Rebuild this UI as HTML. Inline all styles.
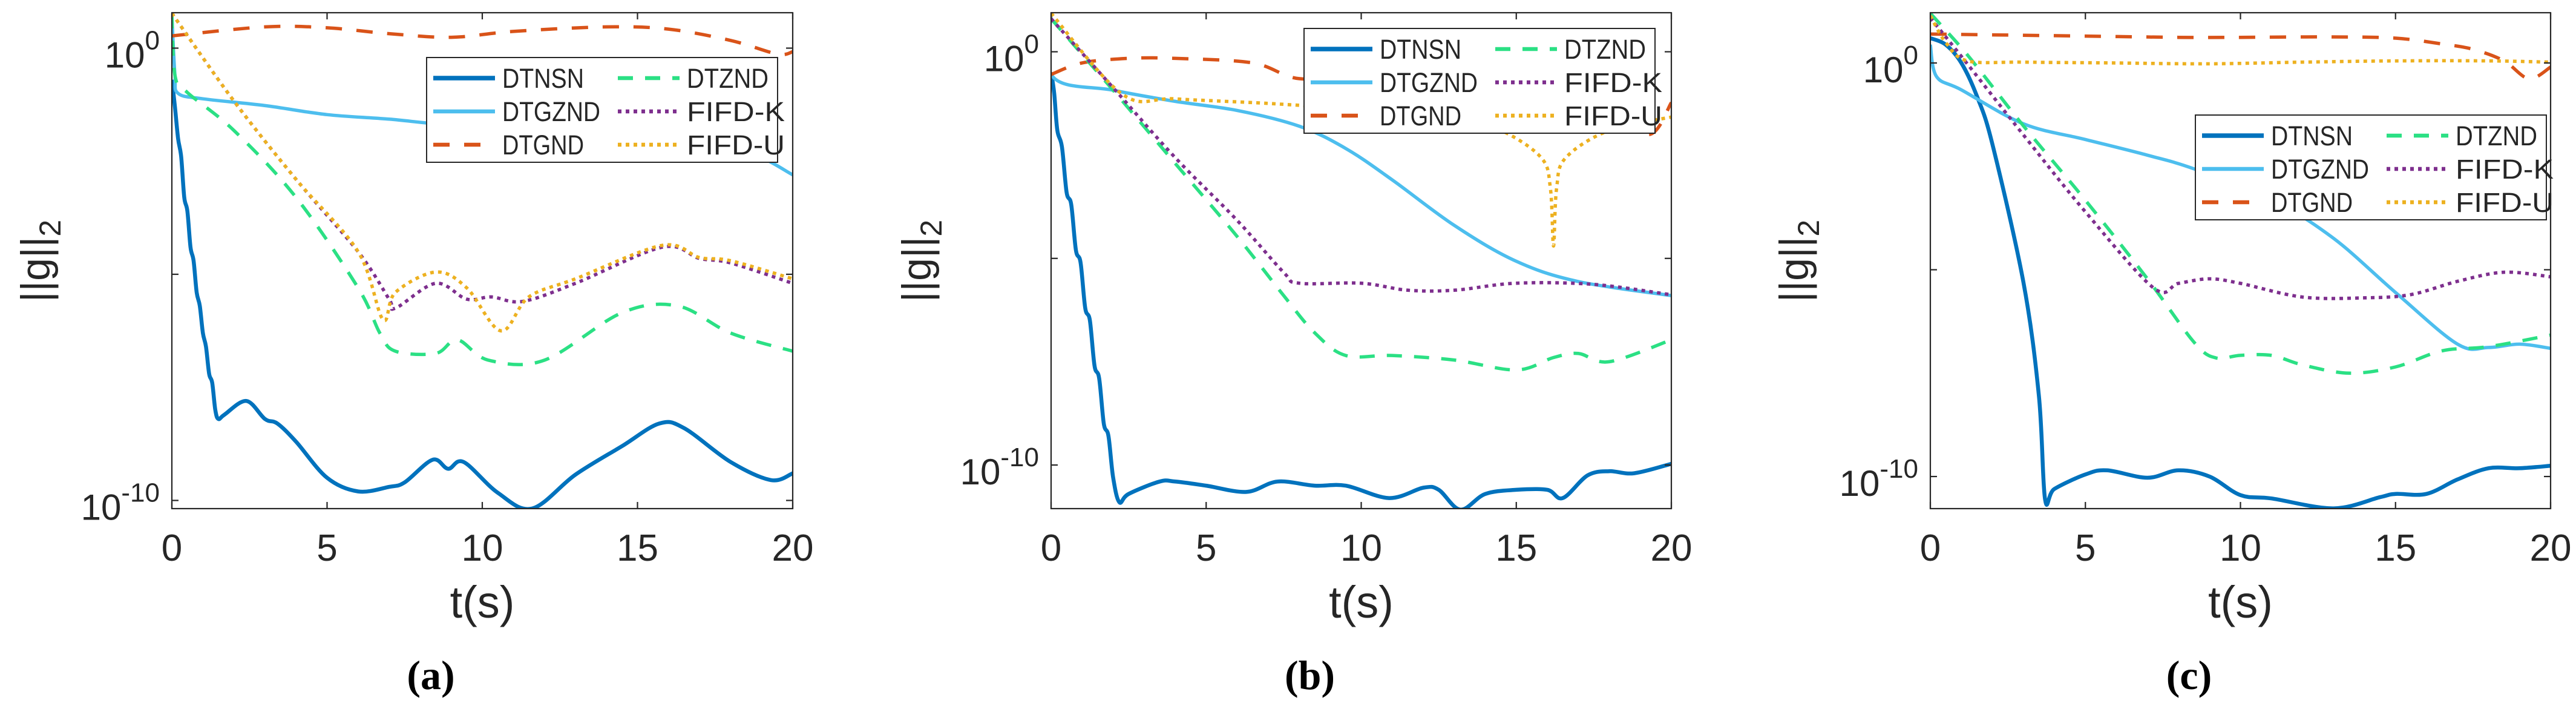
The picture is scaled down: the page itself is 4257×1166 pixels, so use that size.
<!DOCTYPE html>
<html><head><meta charset="utf-8">
<style>
html,body{margin:0;padding:0;background:#fff;}
svg{display:block;}
text{font-family:"Liberation Sans",Arial,sans-serif;fill:#262626;}
.cap{font-family:"Liberation Serif",serif;font-weight:bold;fill:#000;}
</style></head>
<body>
<svg id="fig" width="4257" height="1166" viewBox="0 0 4257 1166" xmlns="http://www.w3.org/2000/svg"></svg>
<script>
// ---------- DATA (t in seconds, values are log10 ||g||_2) ----------
const seriesNames = ["DTNSN","DTGZND","DTGND","DTZND","FIFD-K","FIFD-U"];
const xTicks = [0,5,10,15,20];

// Panel (a)
const a_DTNSN_t = [0,0.1,0.2,0.3,0.4,0.5,0.6,0.7,0.8,0.9,1.0,1.1,1.2,1.3,1.4,1.5,1.7,2.4,3,3.4,4,5,6,7,7.5,8.4,8.9,9.4,10.5,11.6,13,14.5,15.7,16.5,18,19.3,20];
const a_DTNSN_v = [-0.7,-1.3,-2.0,-2.4,-3.3,-3.6,-4.4,-4.7,-5.4,-5.7,-6.3,-6.6,-7.2,-7.4,-8.0,-8.2,-8.1,-7.8,-8.2,-8.3,-8.7,-9.5,-9.8,-9.7,-9.6,-9.1,-9.3,-9.15,-9.83,-10.18,-9.43,-8.8,-8.3,-8.4,-9.15,-9.55,-9.4];
const a_DTGZND_t = [0,0.1,0.2,1,3,5,7,9,13,16,18.5,20];
const a_DTGZND_v = [0.7,-0.6,-1.0,-1.12,-1.27,-1.47,-1.57,-1.7,-1.85,-2.1,-2.3,-2.8];
const a_DTGND_t = [0,3,5,7,9,11,14,16,18,19.5,20];
const a_DTGND_v = [0.27,0.47,0.45,0.32,0.24,0.37,0.47,0.42,0.17,-0.13,-0.08];
const a_DTZND_t = [0,0.1,0.5,2,4,6,6.7,7.2,8.5,9.2,10.2,12,14.5,16.3,18,20];
const a_DTZND_v = [0.77,-0.6,-0.98,-1.82,-3.3,-5.3,-6.3,-6.7,-6.75,-6.45,-6.9,-6.9,-5.85,-5.7,-6.3,-6.7];
const a_FIFDK_t = [0,2,4,6,7,7.2,8.5,9.5,10.3,11.3,13,15.8,17,18,20];
const a_FIFDK_v = [0.77,-1.17,-2.9,-4.5,-5.55,-5.75,-5.2,-5.55,-5.5,-5.6,-5.2,-4.4,-4.65,-4.75,-5.2];
const a_FIFDU_t = [0,2,4,6,6.8,7.2,8.5,9.5,10.6,11.5,13,15.8,17,18,20];
const a_FIFDU_v = [0.77,-1.17,-2.9,-4.5,-6.0,-5.4,-4.95,-5.3,-6.25,-5.5,-5.1,-4.36,-4.63,-4.7,-5.1];

// Panel (b)
const b_DTNSN_t = [0,0.1,0.2,0.35,0.5,0.65,0.8,0.95,1.1,1.25,1.4,1.55,1.7,1.85,2.0,2.2,2.5,3.5,4,5,6.3,7.3,8.5,9.5,10.9,12,12.5,13.2,14,15,16,16.5,17.3,18,18.8,20];
const b_DTNSN_v = [-0.5,-1.0,-1.9,-2.3,-3.4,-3.7,-4.8,-5.1,-6.2,-6.5,-7.6,-7.9,-9.0,-9.3,-10.3,-10.9,-10.7,-10.4,-10.4,-10.5,-10.65,-10.4,-10.5,-10.5,-10.8,-10.55,-10.6,-11.08,-10.7,-10.6,-10.6,-10.8,-10.25,-10.15,-10.2,-9.97];
const b_DTGZND_t = [0,0.05,2,4,6,8,9.5,11,13,15,17,20];
const b_DTGZND_v = [0.93,-0.6,-0.93,-1.2,-1.42,-1.8,-2.34,-3.1,-4.2,-5.07,-5.56,-5.9];
const b_DTGND_t = [0,1,2.5,4,6.5,8,10,12,16,18,19.3,20];
const b_DTGND_v = [-0.55,-0.27,-0.16,-0.16,-0.27,-0.65,-0.55,-0.45,-0.8,-1.5,-2.0,-1.23];
const b_DTZND_t = [0,2,4,6,7.5,8.5,9.5,11,13,15,16.2,17,18,20];
const b_DTZND_v = [0.8,-0.93,-2.7,-4.47,-5.9,-6.8,-7.35,-7.35,-7.46,-7.7,-7.4,-7.3,-7.5,-6.97];
const b_FIFDK_t = [0,2,4,6,7.5,8,10,11.5,13,15,17.5,20];
const b_FIFDK_v = [0.8,-0.87,-2.56,-4.08,-5.34,-5.6,-5.6,-5.77,-5.77,-5.6,-5.63,-5.88];
const b_FIFDU_t = [0,2.3,4,7,10,13,14.5,15.8,16.1,16.2,16.3,16.6,18,20];
const b_FIFDU_v = [0.93,-1.03,-1.14,-1.25,-1.4,-1.6,-1.9,-2.56,-3.3,-4.7,-3.3,-2.56,-1.9,-1.58];

// Panel (c)
const c_DTNSN_t = [0,0.5,1,1.5,2,3,3.5,3.7,4,5,5.7,7,8,9,10,11,13,14.5,15,16,17,18,19,20];
const c_DTNSN_v = [0.6,0.44,0,-0.8,-1.96,-5.3,-8.05,-10.55,-10.3,-9.95,-9.85,-10.03,-9.85,-10.0,-10.45,-10.53,-10.77,-10.5,-10.42,-10.42,-10.07,-9.8,-9.8,-9.74];
const c_DTGZND_t = [0,0.2,1,3,5,7,8.5,11,13,15,17,18,19,20];
const c_DTGZND_v = [0.44,-0.33,-0.65,-1.47,-1.85,-2.23,-2.56,-3.3,-4.24,-5.55,-6.8,-6.88,-6.8,-6.9];
const c_DTGND_t = [0,2,5,8,10,13,15,16.5,17.5,18.5,19.3,20];
const c_DTGND_v = [0.7,0.68,0.65,0.62,0.62,0.63,0.6,0.46,0.33,0.05,-0.38,-0.1];
const c_DTZND_t = [0,0.4,1.3,3,5,7,8.5,9.2,10,11,12,13.5,15,16.5,18,20];
const c_DTZND_v = [1.2,0.87,0.1,-1.52,-3.32,-5.22,-6.75,-7.13,-7.07,-7.07,-7.3,-7.5,-7.35,-6.96,-6.86,-6.58];
const c_FIFDK_t = [0,1,3,5,7.2,8,9,10,12,14,15.5,17,18.5,20];
const c_FIFDK_v = [1.09,0.16,-1.74,-3.6,-5.44,-5.33,-5.22,-5.33,-5.66,-5.68,-5.6,-5.28,-5.06,-5.17];
const c_FIFDU_t = [0,0.5,1.2,3,6,9,12,15,18,20];
const c_FIFDU_v = [1.14,0.49,0.05,0.02,0,-0.02,0.02,0.05,0.05,0.02];

// ---------- RENDER ----------
const NS = "http://www.w3.org/2000/svg";
const fig = document.getElementById("fig");
function mk(tag, attrs, parent){ const e=document.createElementNS(NS,tag); for(const k in attrs) e.setAttribute(k,attrs[k]); (parent||fig).appendChild(e); return e; }

function smoothPath(P){
  let d = "M"+P[0][0].toFixed(1)+","+P[0][1].toFixed(1);
  for(let i=0;i<P.length-1;i++){
    const p0=P[Math.max(0,i-1)], p1=P[i], p2=P[i+1], p3=P[Math.min(P.length-1,i+2)];
    const k=1/6;
    const c1=[p1[0]+(p2[0]-p0[0])*k, p1[1]+(p2[1]-p0[1])*k];
    const c2=[p2[0]-(p3[0]-p1[0])*k, p2[1]-(p3[1]-p1[1])*k];
    d+=" C"+c1[0].toFixed(1)+","+c1[1].toFixed(1)+" "+c2[0].toFixed(1)+","+c2[1].toFixed(1)+" "+p2[0].toFixed(1)+","+p2[1].toFixed(1);
  }
  return d;
}

const styles = {
  "DTNSN":{c:"#0072BD",w:6.5,d:""},
  "DTGZND":{c:"#4DBEEE",w:5.5,d:""},
  "DTGND":{c:"#D95319",w:5.5,d:"27 24"},
  "DTZND":{c:"#2BE084",w:5.5,d:"25 20"},
  "FIFD-K":{c:"#7E2F8E",w:5.5,d:"6 7"},
  "FIFD-U":{c:"#EDB120",w:5.5,d:"6 7"}
};

const panels = [
  {id:"a", x0:284, x1:1310, top:21, bot:840, y0:79.5, dec:74.7, ylabX:60, legX:705, legY:95, cap:"(a)",
   data:[[a_DTNSN_t,a_DTNSN_v],[a_DTGZND_t,a_DTGZND_v],[a_DTGND_t,a_DTGND_v],[a_DTZND_t,a_DTZND_v],[a_FIFDK_t,a_FIFDK_v],[a_FIFDU_t,a_FIFDU_v]]},
  {id:"b", x0:1737, x1:2762, top:21, bot:840, y0:85.5, dec:68.25, ylabX:1516, legX:2155, legY:47, cap:"(b)",
   data:[[b_DTNSN_t,b_DTNSN_v],[b_DTGZND_t,b_DTGZND_v],[b_DTGND_t,b_DTGND_v],[b_DTZND_t,b_DTZND_v],[b_FIFDK_t,b_FIFDK_v],[b_FIFDU_t,b_FIFDU_v]]},
  {id:"c", x0:3190, x1:4215, top:21, bot:840, y0:104, dec:68.3, ylabX:2966, legX:3628, legY:190, cap:"(c)",
   data:[[c_DTNSN_t,c_DTNSN_v],[c_DTGZND_t,c_DTGZND_v],[c_DTGND_t,c_DTGND_v],[c_DTZND_t,c_DTZND_v],[c_FIFDK_t,c_FIFDK_v],[c_FIFDU_t,c_FIFDU_v]]}
];

panels.forEach(p=>{
  const xs = t => p.x0 + (t/20)*(p.x1-p.x0);
  const ys = l => p.y0 - l*p.dec;
  const g = mk("g",{});
  
  
  const clipId = "clip"+p.id;
  const cp = mk("clipPath",{id:clipId},g);
  mk("rect",{x:p.x0,y:p.top,width:p.x1-p.x0,height:p.bot-p.top},cp);

  const sg = mk("g",{"clip-path":"url(#"+clipId+")"},g);
  p.data.forEach((s,i)=>{
    const name = seriesNames[i], st = styles[name];
    const P = s[0].map((t,k)=>[xs(t), ys(s[1][k])]);
    const pl = mk("path",{d:smoothPath(P),fill:"none",stroke:st.c,"stroke-width":st.w,"stroke-dasharray":st.d,"stroke-linejoin":"round"},sg);
    
    
  });

  const box = mk("rect",{x:p.x0,y:p.top,width:p.x1-p.x0,height:p.bot-p.top,fill:"none",stroke:"#262626","stroke-width":2.2},g);
  
  

  xTicks.forEach(t=>{
    const x = xs(t);
    mk("line",{x1:x,y1:p.bot,x2:x,y2:p.bot-11,stroke:"#262626","stroke-width":2.2},g);
    mk("line",{x1:x,y1:p.top,x2:x,y2:p.top+11,stroke:"#262626","stroke-width":2.2},g);
    const tx = mk("text",{x:x,y:926,"font-size":62,"text-anchor":"middle"},g);
    tx.textContent = t;
    
    
  });
  [0,-5,-10].forEach(l=>{
    const y = ys(l);
    mk("line",{x1:p.x0,y1:y,x2:p.x0+11,y2:y,stroke:"#262626","stroke-width":2.2},g);
    mk("line",{x1:p.x1,y1:y,x2:p.x1-11,y2:y,stroke:"#262626","stroke-width":2.2},g);
    if(l!==-5){
      const tx = mk("text",{x:p.x0-20,y:y+32,"font-size":60,"text-anchor":"end"},g);
      
      
      const a = mk("tspan",{},tx); a.textContent="10";
      const b = mk("tspan",{dy:-30,"font-size":44}, tx); b.textContent = String(l);
    }
  });
  const xl = mk("text",{x:(p.x0+p.x1)/2,y:1020,"font-size":74,"text-anchor":"middle"},g);
  xl.textContent="t(s)";
  
  
  const yl = mk("text",{x:0,y:0,"font-size":68,"text-anchor":"middle",transform:"translate("+(p.ylabX+22)+",431) rotate(-90)"},g);
  
  
  const y1 = mk("tspan",{},yl); y1.textContent="||g||";
  const y2 = mk("tspan",{dy:18,"font-size":50},yl); y2.textContent="2";
  const cap = mk("text",{x:(p.x0+p.x1)/2-85,y:1138,"font-size":68,"text-anchor":"middle",class:"cap"},g);
  cap.textContent=p.cap;
  
  

  const lg = mk("g",{},g);
  
  
  mk("rect",{x:p.legX,y:p.legY,width:580,height:173,fill:"#fff",stroke:"#262626","stroke-width":2},lg);
  const order = [["DTNSN",0,0],["DTGZND",0,1],["DTGND",0,2],["DTZND",1,0],["FIFD-K",1,1],["FIFD-U",1,2]];
  order.forEach(o=>{
    const st = styles[o[0]];
    const lx = p.legX + (o[1]?316:11);
    const ly = p.legY + 34 + o[2]*55;
    const e = mk("g",{},lg);
    
    
    mk("line",{x1:lx,y1:ly,x2:lx+102,y2:ly,stroke:st.c,"stroke-width":st.w+1,"stroke-dasharray":st.d},e);
    const t = mk("text",{x:lx+114,y:ly+16,"font-size":45,textLength:o[0].length*27,lengthAdjust:"spacingAndGlyphs"},e);
    t.textContent=o[0];
  });
});
</script>
</body></html>
